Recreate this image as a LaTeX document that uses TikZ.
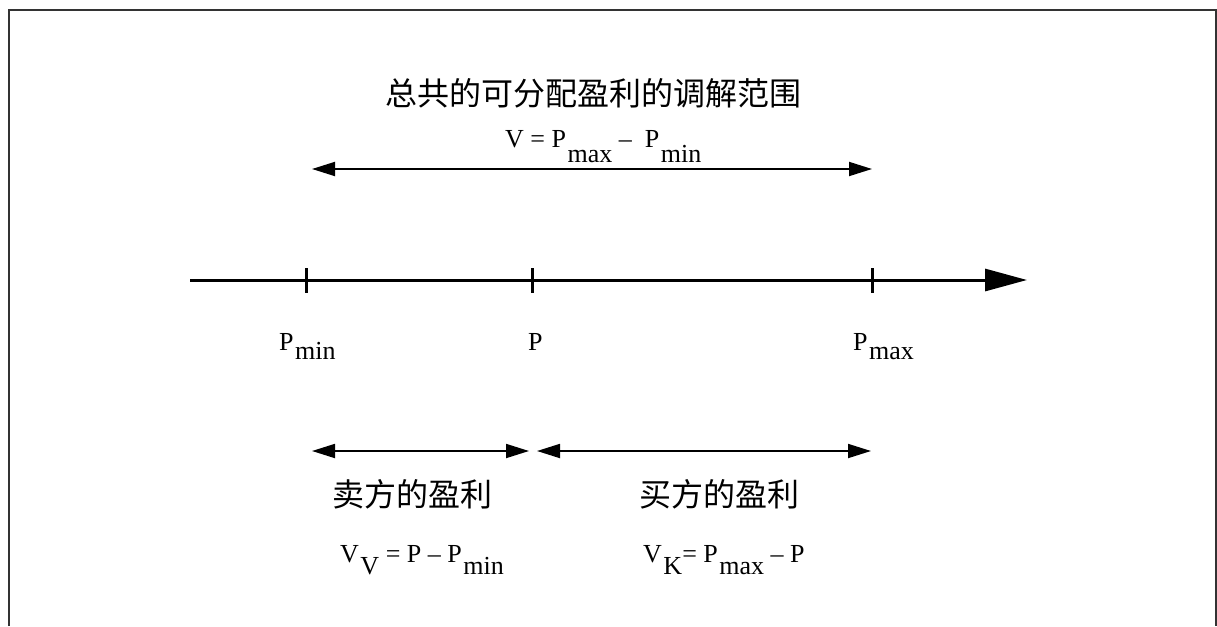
\documentclass[tikz,border=0pt]{standalone}
\usepackage{fontspec}
\setmainfont{Liberation Serif}
\newfontfamily\cjk{Noto Sans CJK SC}
\usetikzlibrary{arrows.meta}

% lowered index, same size as the letter
\newcommand{\subdn}[2][9pt]{\kern1.5pt\raisebox{-#1}{#2}}

\tikzset{
  frameline/.style={line width=2pt, draw=black!80},
  axisline/.style={line width=3pt, -{Triangle[length=42pt,width=22pt]}},
  tickmark/.style={line width=3pt},
  rangearrow/.style={line width=1.8pt, {Triangle[length=23pt,width=14pt]}-{Triangle[length=23pt,width=14pt]}},
  cjklabel/.style={font=\cjk\fontsize{32pt}{38pt}\selectfont},
  formula/.style={anchor=base west, inner sep=0pt, font=\fontsize{26pt}{30pt}\selectfont},
  pricelabel/.style={formula, font=\fontsize{26pt}{30pt}\selectfont},
}

\begin{document}
\begin{tikzpicture}[x=1pt,y=-1pt]
    \useasboundingbox (0,0) rectangle (1217,626);
    %frame
    \draw[frameline] (9,626) -- (9,10.5) -- (1216,10.5) -- (1216,626);

    %total range
    \node[cjklabel] (title) at (593,93) {总共的可分配盈利的调解范围};
    \node[formula] (vtotal) at (505,147) {V = P\subdn[15pt]{max} –\ \ P\subdn[15pt]{min}};
    \coordinate (vl) at (312,169);
    \coordinate (vr) at (872,169);
    \draw[rangearrow] (vl) -- (vr);

    %price axis
    \coordinate (axstart) at (190,280);
    \coordinate (axend) at (1027,280);
    \coordinate (tmin) at (306,280);
    \coordinate (tp) at (532,280);
    \coordinate (tmax) at (872,280);
    \draw[axisline] (axstart) -- (axend);
    \draw[tickmark] ([yshift=12pt]tmin) -- ([yshift=-13pt]tmin);
    \draw[tickmark] ([yshift=12pt]tp) -- ([yshift=-13pt]tp);
    \draw[tickmark] ([yshift=12pt]tmax) -- ([yshift=-13pt]tmax);
    \node[pricelabel] (lmin) at (279,350) {P\subdn{min}};
    \node[pricelabel] (lp) at (528,350) {P};
    \node[pricelabel] (lmax) at (853,350) {P\subdn{max}};

    %seller / buyer
    \coordinate (sl) at (312,451);
    \coordinate (sr) at (529,451);
    \coordinate (bl) at (537,451);
    \coordinate (br) at (871,451);
    \draw[rangearrow] (sl) -- (sr);
    \draw[rangearrow] (bl) -- (br);
    \node[cjklabel] (seller) at (412,494) {卖方的盈利};
    \node[cjklabel] (buyer) at (719,494) {买方的盈利};
    \node[formula] (vv) at (340,562) {V\subdn[12pt]{V} = P – P\subdn[12pt]{min}};
    \node[formula] (vk) at (643,562) {V\subdn[12pt]{K}= P\subdn[12pt]{max} – P};
\end{tikzpicture}
\end{document}
